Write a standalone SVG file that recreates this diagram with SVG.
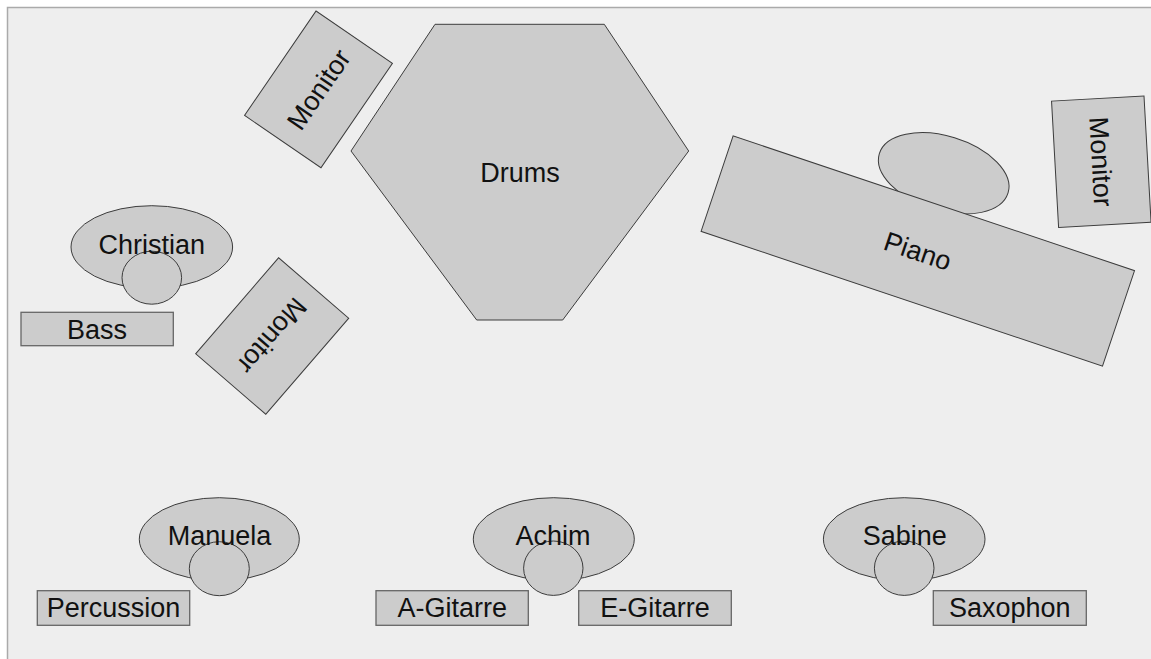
<svg xmlns="http://www.w3.org/2000/svg" width="1151" height="659" viewBox="0 0 1151 659">
<style>
.bg{fill:#eeeeee;stroke:#aaaaaa;stroke-width:1.5}
.sh{fill:#cccccc;stroke:#3c3c3c;stroke-width:1}
.box{fill:#cccccc;stroke:#666666;stroke-width:1.3}
text{font-family:"Liberation Sans",Arial,sans-serif;font-size:27px;fill:#111111;text-anchor:middle}
</style>
<rect x="0" y="0" width="1151" height="659" fill="#ffffff"/>
<rect class="bg" x="7.5" y="7.5" width="1200" height="700"/>
<g id="connectors"></g>
<g id="monitor-top-left" transform="translate(318.5,89.4) rotate(-55.6)">
<rect class="sh" x="-63.25" y="-46.3" width="126.5" height="92.6"/>
<text x="0" y="9.5">Monitor</text>
</g>
<g id="drums">
<polygon class="sh" points="435,24.3 604.3,24.3 688.7,151 562.7,320 476.7,320 351,151"/>
<text x="520" y="182">Drums</text>
</g>
<g id="piano-player">
<ellipse class="sh" cx="943.7" cy="173.3" rx="67.3" ry="37.2" transform="rotate(17 943.7 173.3)"/>
</g>
<g id="piano" transform="translate(917.8,251) rotate(18.55)">
<rect class="sh" x="-211.7" y="-50.35" width="423.4" height="100.7"/>
<text x="0" y="9.5">Piano</text>
</g>
<g id="monitor-right" transform="translate(1101.3,161.7) rotate(86.8)">
<rect class="sh" x="-63.25" y="-46.3" width="126.5" height="92.6"/>
<text x="0" y="9.5">Monitor</text>
</g>
<g id="christian">
<ellipse class="sh" cx="151.8" cy="247" rx="80.8" ry="41.3"/>
<ellipse class="sh" cx="151.8" cy="277.7" rx="29.8" ry="26.5"/>
<text x="151.8" y="254">Christian</text>
</g>
<g id="bass">
<rect class="box" x="21" y="312.3" width="152.3" height="33.4"/>
<text x="97" y="338.5">Bass</text>
</g>
<g id="monitor-left" transform="translate(272.2,336) rotate(130.8)">
<rect class="sh" x="-63.45" y="-46.3" width="126.9" height="92.6"/>
<text x="0" y="9.5">Monitor</text>
</g>
<g id="manuela">
<ellipse class="sh" cx="219.3" cy="539.2" rx="80" ry="41.5"/>
<ellipse class="sh" cx="219.3" cy="568.7" rx="30" ry="27"/>
<text x="219.5" y="545">Manuela</text>
</g>
<g id="percussion">
<rect class="box" x="37.3" y="590.7" width="152.4" height="34.6"/>
<text x="113.5" y="617.3">Percussion</text>
</g>
<g id="achim">
<ellipse class="sh" cx="553.8" cy="539.2" rx="80.5" ry="41.5"/>
<ellipse class="sh" cx="553.3" cy="568.2" rx="29.7" ry="27.2"/>
<text x="553" y="545">Achim</text>
</g>
<g id="a-gitarre">
<rect class="box" x="376" y="590.7" width="152.3" height="34.6"/>
<text x="452.2" y="617">A-Gitarre</text>
</g>
<g id="e-gitarre">
<rect class="box" x="578.7" y="590.7" width="152.6" height="34.6"/>
<text x="655" y="617">E-Gitarre</text>
</g>
<g id="sabine">
<ellipse class="sh" cx="904.2" cy="539.2" rx="80.8" ry="41.5"/>
<ellipse class="sh" cx="904.2" cy="568.2" rx="29.8" ry="27.2"/>
<text x="904.7" y="545">Sabine</text>
</g>
<g id="saxophon">
<rect class="box" x="933.3" y="590.7" width="153" height="34.6"/>
<text x="1009.8" y="617">Saxophon</text>
</g>
</svg>
